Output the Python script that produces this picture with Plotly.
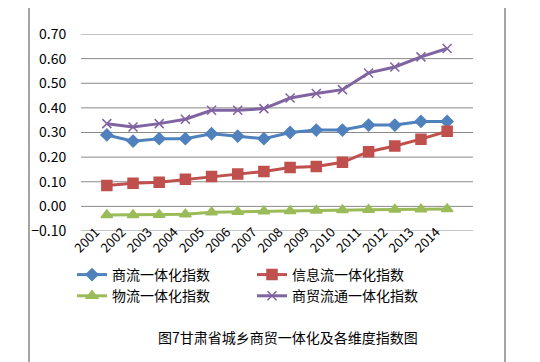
import plotly.graph_objects as go

years = ["2001", "2002", "2003", "2004", "2005", "2006", "2007",
         "2008", "2009", "2010", "2011", "2012", "2013", "2014"]
shangliu = [0.29, 0.265, 0.275, 0.275, 0.295, 0.285, 0.275,
            0.30, 0.31, 0.31, 0.33, 0.33, 0.345, 0.345]
xinxi = [0.085, 0.094, 0.098, 0.11, 0.121, 0.131, 0.142,
         0.158, 0.162, 0.179, 0.222, 0.245, 0.273, 0.305]
wuliu = [-0.035, -0.035, -0.034, -0.032, -0.024, -0.022, -0.02,
         -0.019, -0.017, -0.015, -0.014, -0.013, -0.012, -0.011]
shangmao = [0.336, 0.322, 0.336, 0.354, 0.39, 0.39, 0.397,
            0.44, 0.458, 0.474, 0.542, 0.566, 0.607, 0.641]
grid_levels = [-0.1, 0.0, 0.1, 0.2, 0.3, 0.4, 0.5, 0.6, 0.7]
names = ["商流一体化指数", "信息流一体化指数", "物流一体化指数", "商贸流通一体化指数"]
title_text = "图7甘肃省城乡商贸一体化及各维度指数图"

FONT = "Noto Sans CJK SC"
OFF = 8  # page body margin
W, H = 540 - OFF, 362 - OFF
L, R, T, B = 81 - OFF, 473 - OFF, 34 - OFF, 231 - OFF

fig = go.Figure()
styles = [
    ("#4F81BD", "diamond", 9),
    ("#C0504D", "square", 10),
    ("#9BBB59", "triangle-up", 10),
    ("#8064A2", "x-thin", 9),
]
for name, ys, (c, sym, sz) in zip(names, [shangliu, xinxi, wuliu, shangmao], styles):
    fig.add_trace(go.Scatter(
        x=years, y=ys, name=name, mode="lines+markers",
        line=dict(color=c, width=3),
        marker=dict(symbol=sym, size=sz, color=c, line=dict(color=c, width=1.5)),
    ))

for g in grid_levels:
    fig.add_shape(type="line", xref="paper", yref="y", x0=0, x1=1, y0=g, y1=g,
                  line=dict(color="#8a8a8a", width=1), layer="below")

def px(x):
    return (x - OFF - L) / (R - L)

def py(y):
    return (B - (y - OFF)) / (B - T)

fig.add_shape(type="rect", xref="paper", yref="paper",
              x0=px(29), x1=px(505), y0=py(380), y1=py(7),
              line=dict(color="#868686", width=1.5), fillcolor="rgba(0,0,0,0)",
              layer="above")

fig.add_annotation(text=title_text, xref="paper", yref="paper",
                   x=px(288), y=py(337), showarrow=False,
                   font=dict(family=FONT, size=14, color="#000"),
                   xanchor="center", yanchor="middle")

fig.update_layout(
    width=W, height=H,
    margin=dict(l=L, r=W - R, t=T, b=H - B, pad=0),
    paper_bgcolor="white", plot_bgcolor="rgba(0,0,0,0)",
    font=dict(family=FONT, size=13, color="#000"),
    showlegend=True,
    legend=dict(orientation="h", x=px(72), y=py(259), xanchor="left", yanchor="top",
                entrywidth=135, entrywidthmode="pixels",
                font=dict(family=FONT, size=14, color="#000"),
                itemwidth=30, bgcolor="rgba(0,0,0,0)", traceorder="normal"),
    xaxis=dict(type="category", tickangle=-45, showgrid=False, showline=False,
               ticks="", tickfont=dict(size=13), fixedrange=True,
               ticklabelstandoff=-10, ticklabelshift=-11),
    yaxis=dict(range=[-0.1, 0.7], tick0=-0.1, dtick=0.1, tickmode="linear",
               tickformat=".2f", showgrid=False, zeroline=False, showline=False,
               ticks="outside", ticklen=11, tickcolor="rgba(0,0,0,0)",
               tickfont=dict(size=14)),
)

fig.write_html("out.html")
